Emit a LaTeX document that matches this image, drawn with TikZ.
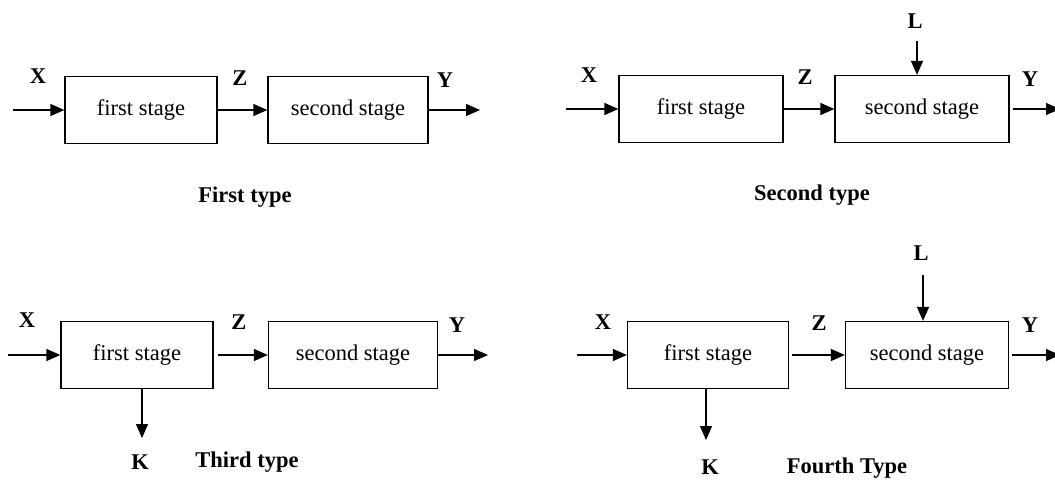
\documentclass[tikz,border=0pt]{standalone}
\usepackage{fontspec}
\setmainfont{Liberation Serif}
\usetikzlibrary{arrows.meta}

\begin{document}
\begin{tikzpicture}[x=1pt, y=-1pt,
  font=\fontsize{22.5}{27}\selectfont,
  stage/.style={draw, line width=1.3pt, minimum height=67pt, inner sep=0pt},
  lbl/.style={font=\fontsize{22.5}{27}\selectfont\bfseries},
  arr/.style={line width=1.3pt, -{Triangle[length=14pt,width=12pt]}}]
\useasboundingbox (0,0) rectangle (1055,483);
% first type
\node[stage, minimum width=152pt] (a1) at (141,110) {first stage};
\node[stage, minimum width=160pt] (a2) at (348,110) {second stage};
\coordinate (a-in) at (13,110);
\coordinate (a-out) at (480,110);
\draw[arr] (a-in) -- (a1);
\draw[arr] (a1) -- (a2);
\draw[arr] (a2) -- (a-out);
\node[lbl] (a-x) at (38,76) {X};
\node[lbl] (a-z) at (240,78) {Z};
\node[lbl] (a-y) at (445,80) {Y};
\node[lbl] (a-cap) at (245,197) {First type};
% second type
\node[stage, minimum width=164pt] (b1) at (701,109) {first stage};
\node[stage, minimum width=174pt] (b2) at (922,109) {second stage};
\coordinate (b-in) at (566,109);
\coordinate (b-out) at (1060,109);
\coordinate (b-l) at (917,41);
\draw[arr] (b-in) -- (b1);
\draw[arr] (b1) -- (b2);
\draw[arr] ([xshift=3pt]b2.east) -- (b-out);
\draw[arr] (b-l) -- (b-l |- b2.north);
\node[lbl] (b-x) at (589,75) {X};
\node[lbl] (b-z) at (805,77) {Z};
\node[lbl] (b-y) at (1030,79) {Y};
\node[lbl] (b-lt) at (915,21) {L};
\node[lbl] (b-cap) at (812,195) {Second type};
% third type
\node[stage, minimum width=152pt] (c1) at (137,355) {first stage};
\node[stage, minimum width=169pt] (c2) at (353,355) {second stage};
\coordinate (c-in) at (8,355);
\coordinate (c-out) at (488,355);
\coordinate (c-k) at (142,438);
\draw[arr] (c-in) -- (c1);
\draw[arr] ([xshift=4pt]c1.east) -- (c2);
\draw[arr] (c2) -- (c-out);
\draw[arr] (c1.south -| c-k) -- (c-k);
\node[lbl] (c-x) at (27,320) {X};
\node[lbl] (c-z) at (239,322) {Z};
\node[lbl] (c-y) at (457,325) {Y};
\node[lbl] (c-kt) at (140,462) {K};
\node[lbl] (c-cap) at (247,462) {Third type};
% fourth type
\node[stage, minimum width=161pt] (d1) at (708,355) {first stage};
\node[stage, minimum width=163pt] (d2) at (927,355) {second stage};
\coordinate (d-in) at (577,355);
\coordinate (d-out) at (1060,355);
\coordinate (d-l) at (923,275);
\coordinate (d-k) at (706,440);
\draw[arr] (d-in) -- (d1);
\draw[arr] ([xshift=3pt]d1.east) -- (d2);
\draw[arr] ([xshift=3pt]d2.east) -- (d-out);
\draw[arr] (d-l) -- (d-l |- d2.north);
\draw[arr] (d1.south -| d-k) -- (d-k);
\node[lbl] (d-x) at (603,322) {X};
\node[lbl] (d-z) at (819,323) {Z};
\node[lbl] (d-y) at (1030,325) {Y};
\node[lbl] (d-lt) at (921,253) {L};
\node[lbl] (d-kt) at (710,467) {K};
\node[lbl] (d-cap) at (847,468) {Fourth Type};
\end{tikzpicture}
\end{document}
